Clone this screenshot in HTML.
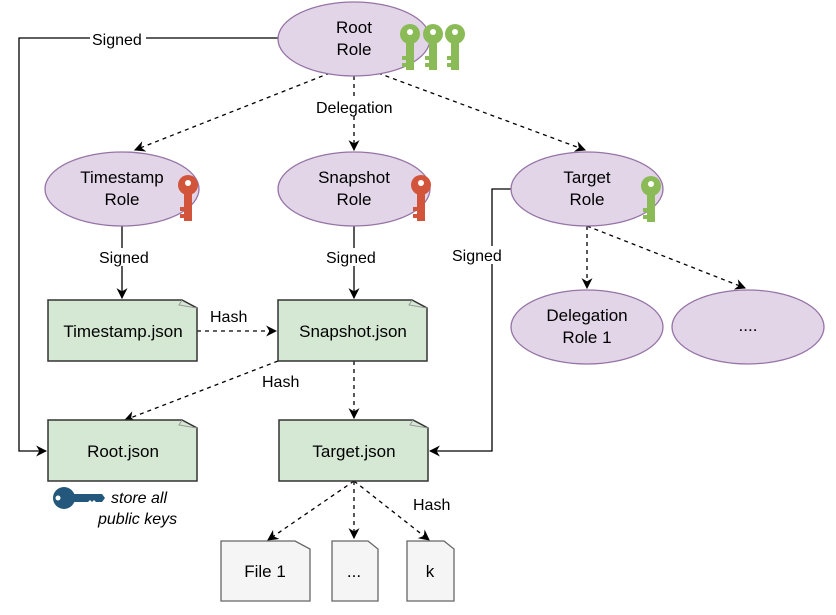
<!DOCTYPE html>
<html><head><style>body{margin:0;background:#fff}text{font-family:"Liberation Sans",Arial,sans-serif;font-size:16px;fill:#000}.n{font-size:17px}</style></head><body>
<svg width="836" height="610" viewBox="0 0 836 610" xmlns="http://www.w3.org/2000/svg">
<defs>
<marker id="a" viewBox="0 0 10 10" refX="9" refY="5" markerWidth="11" markerHeight="11" orient="auto" markerUnits="userSpaceOnUse"><path d="M0,0 L10,5 L0,10 L3,5 z" fill="#000"/></marker>
<g id="key"><circle cx="0" cy="0" r="10"/><rect x="-4" y="6" width="8" height="30"/><rect x="-8" y="22" width="5" height="4"/><rect x="-8" y="29" width="5" height="4"/></g>
</defs>
<g stroke="#000" stroke-width="1.3" fill="none">
<path d="M278,38 H19 V451 H46" marker-end="url(#a)"/>
<path d="M122,226 V298" marker-end="url(#a)"/>
<path d="M354,226 V298" marker-end="url(#a)"/>
<path d="M511,189 H492 V451 H430" marker-end="url(#a)"/>
<g stroke-dasharray="4,4">
<path d="M330,73 L135,150" marker-end="url(#a)"/>
<path d="M354,76 V150" marker-end="url(#a)"/>
<path d="M378,73 L585,150" marker-end="url(#a)"/>
<path d="M197,331 H276" marker-end="url(#a)"/>
<path d="M278,361 L125,420" marker-end="url(#a)"/>
<path d="M354,361 V418" marker-end="url(#a)"/>
<path d="M587,226 V288" marker-end="url(#a)"/>
<path d="M587,226 L745,288" marker-end="url(#a)"/>
<path d="M354,481 L268,540" marker-end="url(#a)"/>
<path d="M354,481 V538" marker-end="url(#a)"/>
<path d="M354,481 L429,540" marker-end="url(#a)"/>
</g>
</g>
<g fill="#e1d5e7" stroke="#9673a6" stroke-width="1.3">
<ellipse cx="354" cy="39" rx="76" ry="37"/>
<ellipse cx="122" cy="189" rx="77" ry="37"/>
<ellipse cx="354" cy="189" rx="76" ry="37"/>
<ellipse cx="587" cy="189" rx="76" ry="37"/>
<ellipse cx="587" cy="327" rx="76" ry="37"/>
<ellipse cx="748" cy="327" rx="76" ry="37"/>
</g>
<g stroke="#333" stroke-width="1.5" fill="#d5e8d4">
<path d="M48,300 H182 L197,308 V361 H48 Z"/>
<path d="M278,300 H412 L427,308 V361 H278 Z"/>
<path d="M48,420 H182 L197,428 V481 H48 Z"/>
<path d="M279,420 H413 L428,428 V481 H279 Z"/>
</g>
<g stroke="#999" stroke-width="1" fill="none">
<path d="M182,300 L179,305 L197,308"/><path d="M412,300 L409,305 L427,308"/><path d="M182,420 L179,425 L197,428"/><path d="M413,420 L410,425 L428,428"/>
</g>
<g stroke="#666" stroke-width="1.3" fill="#f5f5f5">
<path d="M221,541 H295 L310,549 V601 H221 Z"/>
<path d="M332,541 H368 L378,549 V601 H332 Z"/>
<path d="M407,541 H444 L454,549 V601 H407 Z"/>
</g>
<g fill="#8bbb57"><use href="#key" x="410" y="34"/><use href="#key" x="433" y="34"/><use href="#key" x="455" y="34"/><use href="#key" x="651" y="186"/></g>
<g fill="#d2543a"><use href="#key" x="188" y="185"/><use href="#key" x="421" y="185"/></g>
<g fill="#fff"><circle cx="410" cy="32" r="3"/><circle cx="433" cy="32" r="3"/><circle cx="455" cy="32" r="3"/><circle cx="651" cy="184" r="3"/><circle cx="188" cy="183" r="3"/><circle cx="421" cy="183" r="3"/></g>
<g fill="#23587c"><circle cx="64" cy="498" r="11"/><path d="M70,494 H102 L105,498 L102,502 H96 L94,500 L92,502 L90,500 L88,502 L70,502 Z"/></g>
<circle cx="58" cy="498" r="2.5" fill="#fff"/>
<g text-anchor="middle" class="n">
<text class="n" x="354" y="33">Root</text><text class="n" x="354" y="55">Role</text>
<text class="n" x="122" y="183">Timestamp</text><text class="n" x="122" y="205">Role</text>
<text class="n" x="354" y="183">Snapshot</text><text class="n" x="354" y="205">Role</text>
<text class="n" x="587" y="183">Target</text><text class="n" x="587" y="205">Role</text>
<text class="n" x="587" y="321">Delegation</text><text class="n" x="587" y="343">Role 1</text>
<text class="n" x="748" y="331">....</text>
<text class="n" x="123" y="337">Timestamp.json</text>
<text class="n" x="353" y="337">Snapshot.json</text>
<text class="n" x="123" y="457">Root.json</text>
<text class="n" x="354" y="457">Target.json</text>
<text class="n" x="265" y="577" fill="#333">File 1</text>
<text class="n" x="354" y="577" fill="#333">...</text>
<text class="n" x="430" y="577" fill="#333">k</text>
</g>
<g>
<rect x="90" y="30" width="56" height="18" fill="#fff"/>
<text x="92" y="45">Signed</text>
<rect x="97" y="248" width="56" height="18" fill="#fff"/>
<text x="99" y="263">Signed</text>
<rect x="324" y="248" width="56" height="18" fill="#fff"/>
<text x="326" y="263">Signed</text>
<rect x="451" y="246" width="56" height="18" fill="#fff"/>
<text x="452" y="261">Signed</text>
<rect x="314" y="98" width="84" height="18" fill="#fff"/>
<text x="316" y="113">Delegation</text>
<text x="210" y="322">Hash</text>
<text x="262" y="387">Hash</text>
<text x="413" y="510">Hash</text>
<text x="111" y="503" font-style="italic">store all</text>
<text x="98" y="524" font-style="italic">public keys</text>
</g>
</svg>
</body></html>
